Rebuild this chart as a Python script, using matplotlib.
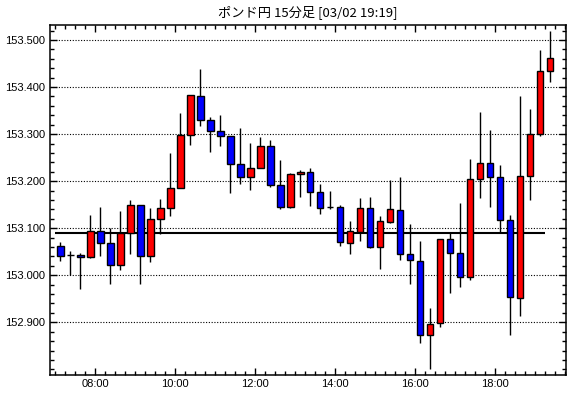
import matplotlib
matplotlib.use("Agg")
import matplotlib.pyplot as plt
from matplotlib.ticker import MultipleLocator, FixedLocator
import numpy as np

title = "ポンド円 15分足 [03/02 19:19]"
start_hour = 7.0          # first candle 07:00
step_hours = 0.25         # 15 minutes
prev_line = 153.089       # horizontal reference line

opens = [153.062, 153.043, 153.043, 153.038, 153.094, 153.069, 153.021, 153.089, 153.149, 153.040,
         153.119, 153.143, 153.185, 153.298, 153.381, 153.330, 153.306, 153.296, 153.236, 153.209,
         153.228, 153.274, 153.191, 153.145, 153.215, 153.219, 153.177, 153.145, 153.145, 153.068,
         153.093, 153.143, 153.061, 153.114, 153.138, 153.045, 153.030, 152.874, 152.898, 153.077,
         153.047, 152.996, 153.204, 153.238, 153.209, 153.117, 152.952, 153.211, 153.300, 153.434]
highs = [153.071, 153.052, 153.048, 153.128, 153.145, 153.100, 153.137, 153.160, 153.149, 153.143,
         153.162, 153.260, 153.345, 153.383, 153.439, 153.336, 153.340, 153.296, 153.313, 153.282,
         153.294, 153.287, 153.245, 153.217, 153.223, 153.228, 153.194, 153.179, 153.150, 153.115,
         153.165, 153.167, 153.126, 153.203, 153.209, 153.110, 153.073, 152.931, 153.077, 153.089,
         153.154, 153.247, 153.348, 153.309, 153.235, 153.128, 153.382, 153.354, 153.479, 153.520]
lows = [153.031, 153.000, 152.970, 153.036, 153.042, 152.981, 153.012, 153.046, 152.982, 153.029,
        153.087, 153.127, 153.185, 153.276, 153.318, 153.263, 153.274, 153.174, 153.193, 153.182,
        153.228, 153.187, 153.140, 153.143, 153.167, 153.148, 153.131, 153.140, 153.063, 153.046,
        153.073, 153.059, 153.013, 153.112, 153.033, 152.982, 152.857, 152.801, 152.889, 152.963,
        152.976, 152.989, 153.165, 153.146, 153.091, 152.874, 152.914, 153.161, 153.295, 153.410]
closes = [153.042, 153.043, 153.038, 153.094, 153.068, 153.021, 153.089, 153.149, 153.040, 153.119,
          153.143, 153.185, 153.298, 153.383, 153.330, 153.306, 153.296, 153.236, 153.209, 153.228,
          153.274, 153.191, 153.145, 153.215, 153.219, 153.177, 153.144, 153.145, 153.070, 153.094,
          153.143, 153.061, 153.115, 153.140, 153.045, 153.032, 152.874, 152.896, 153.077, 153.047,
          152.996, 153.204, 153.238, 153.209, 153.117, 152.953, 153.211, 153.300, 153.435, 153.462]

x_tick_labels = ["08:00", "10:00", "12:00", "14:00", "16:00", "18:00"]
x_tick_hours = [8, 10, 12, 14, 16, 18]
y_ticks = [152.9, 153.0, 153.1, 153.2, 153.3, 153.4, 153.5]

o = np.array(opens); h = np.array(highs); l = np.array(lows); c = np.array(closes)
n = len(o)
xs = start_hour + step_hours * (np.arange(n) + 0.5)

fig = plt.figure(figsize=(5.70, 3.98), dpi=100)
ax = fig.add_axes([49.5/570, 1 - 375/398, (566 - 49.5)/570, (375 - 24.5)/398])

# grid lines
for yv in y_ticks:
    ax.axhline(yv, color="black", lw=0.8, linestyle=(0, (1, 1.5)), zorder=1)

# reference line
ax.hlines(prev_line, start_hour, start_hour + step_hours * (n - 1), color="black", lw=1.5, zorder=2)

# wicks
ax.vlines(xs, l, h, color="black", lw=1.0, zorder=3)

# bodies
colors = ["#FF0000" if c[i] > o[i] else "#0000FF" for i in range(n)]
bottoms = np.minimum(o, c)
heights = np.abs(c - o)
ax.bar(xs, heights, bottom=bottoms, width=step_hours * 0.68, color=colors,
       edgecolor="black", linewidth=1.0, zorder=4)

ax.set_xlim(6.8575, 19.775)
ax.set_ylim(152.788, 153.533)

ax.xaxis.set_major_locator(FixedLocator(x_tick_hours))
ax.set_xticklabels(x_tick_labels)
ax.xaxis.set_minor_locator(MultipleLocator(0.25))
ax.yaxis.set_major_locator(FixedLocator(y_ticks))
ax.set_yticklabels([f"{v:.3f}" for v in y_ticks])
ax.yaxis.set_minor_locator(MultipleLocator(0.02))

ax.tick_params(which="both", direction="in", top=True, right=True, color="black")
ax.tick_params(which="major", length=5, width=1, labelsize=8, pad=3)
ax.tick_params(which="minor", length=3, width=1)
for lab in ax.get_xticklabels() + ax.get_yticklabels():
    lab.set_fontfamily("Liberation Sans")
for sp in ax.spines.values():
    sp.set_linewidth(1.1)
    sp.set_color("black")

fig.text((49.5 + 566) / 2 / 570, 1 - 12.5/398, title, ha="center", va="center",
         fontsize=9.5, family=["Noto Sans CJK JP", "DejaVu Sans"])

fig.savefig("out.png", dpi=100, facecolor="white")
